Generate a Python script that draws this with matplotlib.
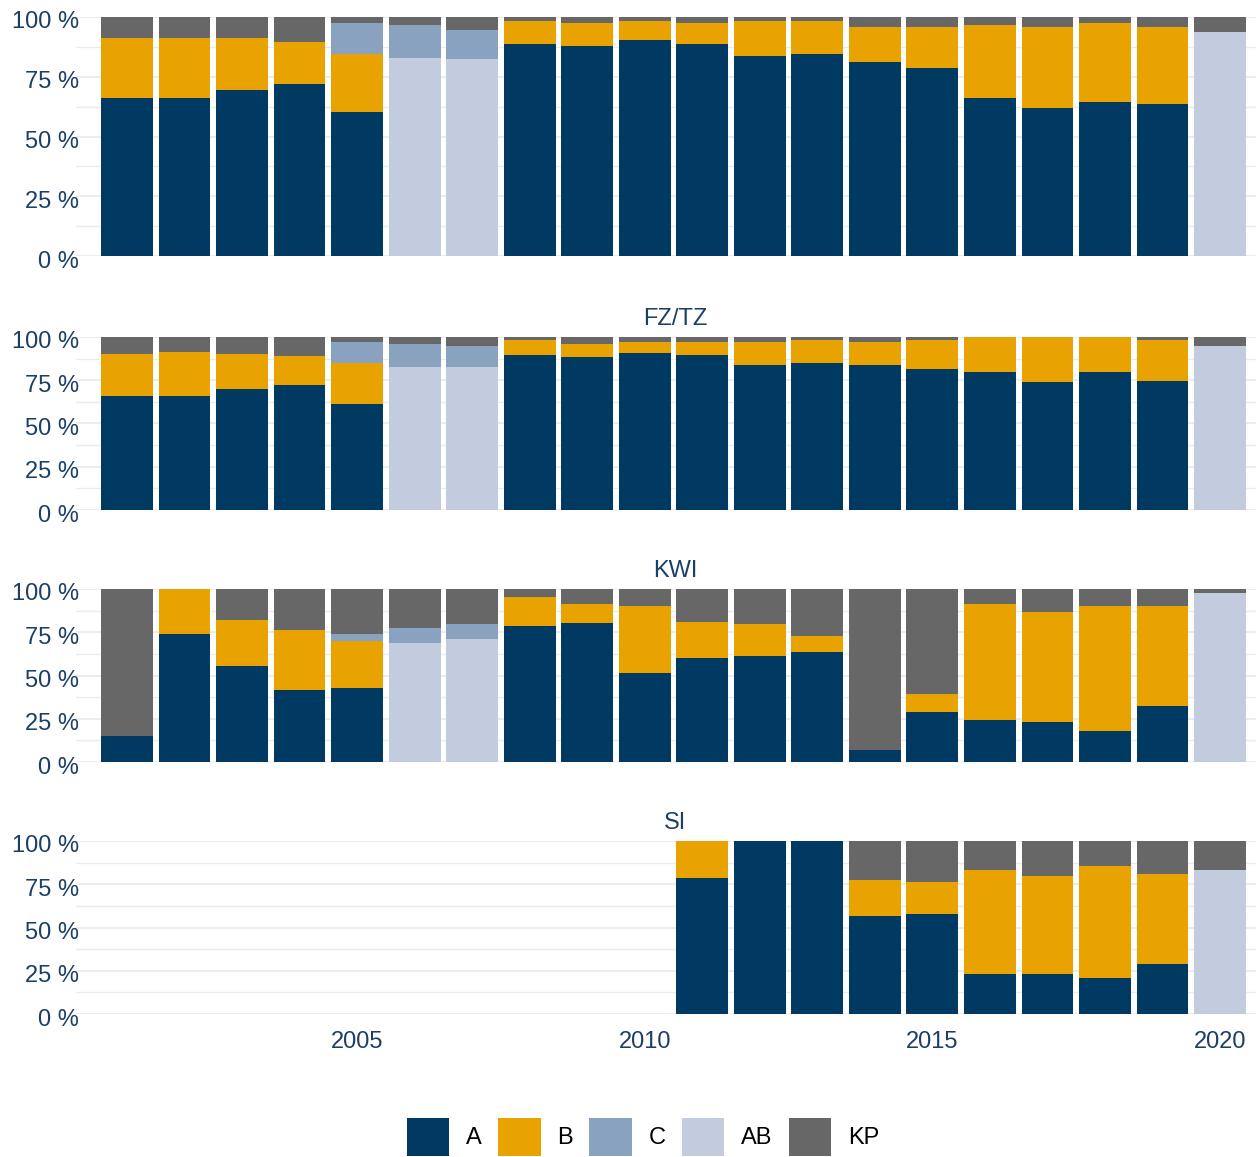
#stacked share bars per year, four facets
import numpy as np
import matplotlib.pyplot as plt
from matplotlib.patches import Patch
from matplotlib.transforms import ScaledTranslation

plt.rcParams['font.family'] = ['Liberation Sans', 'DejaVu Sans']

years = list(range(2001, 2021))
categories = ['A', 'B', 'C', 'AB', 'KP']
colors = ['#003A63', '#E8A300', '#89A2BF', '#C2CCDE', '#676767']
# order of stacking from bottom to top (AB sits at the bottom when present)
stack_order = [0, 3, 1, 2, 4]
panel_titles = ['', 'FZ/TZ', 'KWI', 'SI']

# shares in % per year (2001..2020)
top_A = [66.0, 66.0, 69.4, 71.9, 60.2, 0, 0, 88.6, 87.8, 90.3, 88.7, 83.7, 84.5, 81.2, 78.7, 66.2, 62.0, 64.5, 63.7, 0]
top_B = [25.1, 25.1, 21.7, 17.5, 24.3, 0, 0, 9.6, 9.6, 7.9, 8.7, 14.5, 13.7, 14.5, 17.0, 30.3, 33.7, 32.9, 32.0, 0]
top_C = [0, 0, 0, 0, 12.9, 13.8, 12.1, 0, 0, 0, 0, 0, 0, 0, 0, 0, 0, 0, 0, 0]
top_AB = [0, 0, 0, 0, 0, 82.7, 82.3, 0, 0, 0, 0, 0, 0, 0, 0, 0, 0, 0, 0, 93.6]
top_KP = [8.9, 8.9, 8.9, 10.6, 2.6, 3.5, 5.6, 1.8, 2.6, 1.8, 2.6, 1.8, 1.8, 4.3, 4.3, 3.5, 4.3, 2.6, 4.3, 6.4]

fz_A = [65.8, 65.8, 69.8, 72.1, 61.2, 0, 0, 89.4, 88.3, 90.8, 89.6, 83.9, 85.0, 83.9, 81.5, 79.8, 74.0, 79.8, 74.6, 0]
fz_B = [24.4, 25.5, 20.4, 16.9, 23.8, 0, 0, 8.9, 7.7, 6.3, 7.5, 13.2, 13.3, 13.2, 16.8, 20.2, 26.0, 20.2, 23.7, 0]
fz_C = [0, 0, 0, 0, 12.1, 13.3, 12.1, 0, 0, 0, 0, 0, 0, 0, 0, 0, 0, 0, 0, 0]
fz_AB = [0, 0, 0, 0, 0, 82.7, 82.7, 0, 0, 0, 0, 0, 0, 0, 0, 0, 0, 0, 0, 94.8]
fz_KP = [9.8, 8.7, 9.8, 11.0, 2.9, 4.0, 5.2, 1.7, 4.0, 2.9, 2.9, 2.9, 1.7, 2.9, 1.7, 0, 0, 0, 1.7, 5.2]

kwi_A = [15.1, 74.1, 55.4, 41.5, 42.7, 0, 0, 78.6, 80.5, 51.4, 60.2, 61.4, 63.7, 6.8, 28.8, 24.1, 23.0, 17.8, 32.6, 0]
kwi_B = [0, 25.9, 26.7, 34.8, 27.2, 0, 0, 16.8, 11.0, 38.8, 20.7, 18.3, 9.1, 0, 10.7, 67.4, 63.7, 72.4, 57.6, 0]
kwi_C = [0, 0, 0, 0, 4.1, 8.7, 8.6, 0, 0, 0, 0, 0, 0, 0, 0, 0, 0, 0, 0, 0]
kwi_AB = [0, 0, 0, 0, 0, 68.7, 71.1, 0, 0, 0, 0, 0, 0, 0, 0, 0, 0, 0, 0, 97.7]
kwi_KP = [84.9, 0, 17.9, 23.7, 26.0, 22.6, 20.3, 4.6, 8.5, 9.8, 19.1, 20.3, 27.2, 93.2, 60.5, 8.5, 13.3, 9.8, 9.8, 2.3]

si_A = [0, 0, 0, 0, 0, 0, 0, 0, 0, 0, 78.6, 100, 100, 56.6, 57.8, 23.0, 23.0, 20.7, 28.8, 0]
si_B = [0, 0, 0, 0, 0, 0, 0, 0, 0, 0, 21.4, 0, 0, 20.8, 18.4, 60.2, 56.7, 64.8, 52.1, 0]
si_C = [0] * 20
si_AB = [0, 0, 0, 0, 0, 0, 0, 0, 0, 0, 0, 0, 0, 0, 0, 0, 0, 0, 0, 83.2]
si_KP = [0, 0, 0, 0, 0, 0, 0, 0, 0, 0, 0, 0, 0, 22.6, 23.8, 16.8, 20.3, 14.5, 19.1, 16.8]

panels = [
    [top_A, top_B, top_C, top_AB, top_KP],
    [fz_A, fz_B, fz_C, fz_AB, fz_KP],
    [kwi_A, kwi_B, kwi_C, kwi_AB, kwi_KP],
    [si_A, si_B, si_C, si_AB, si_KP],
]

W, H = 1256, 1157
fig = plt.figure(figsize=(W / 100, H / 100), dpi=100)

# panel pixel extents (top, bottom)
extents = [(17, 256), (337, 510), (589, 762), (841, 1014)]
left_px, right_px = 76, 1256
navy = '#1B3F66'
shift_down = ScaledTranslation(0, -0.03, fig.dpi_scale_trans)

for p, (series, (t, b)) in enumerate(zip(panels, extents)):
    ax = fig.add_axes([left_px / W, 1 - b / H, (right_px - left_px) / W, (b - t) / H])
    bottom = np.zeros(len(years))
    for k in stack_order:
        vals = np.array(series[k], dtype=float)
        ax.bar(years, vals, bottom=bottom, width=0.9, color=colors[k], linewidth=0, zorder=2)
        bottom += vals
    ax.set_xlim(2000.113, 2020.626)
    ax.set_ylim(0, 100)
    ax.set_yticks([0, 25, 50, 75, 100])
    ax.set_yticklabels(['0 %', '25 %', '50 %', '75 %', '100 %'])
    ax.set_yticks([12.5, 37.5, 62.5, 87.5], minor=True)
    ax.grid(axis='y', which='major', color='#EBEBEB', linewidth=1.3, zorder=0)
    ax.grid(axis='y', which='minor', color='#EBEBEB', linewidth=1.0, zorder=0)
    ax.tick_params(axis='y', which='both', length=0, labelsize=17, labelcolor=navy, pad=-2)
    for lbl in ax.get_yticklabels():
        lbl.set_transform(lbl.get_transform() + shift_down)
    for s in ax.spines.values():
        s.set_visible(False)
    if p == 3:
        ax.set_xticks([2005, 2010, 2015, 2020])
        ax.tick_params(axis='x', length=0, labelsize=17, labelcolor=navy, pad=12)
    else:
        ax.set_xticks([])
    if panel_titles[p]:
        ax.text((675 - left_px) / (right_px - left_px), 1.0 + 18 / (b - t), panel_titles[p],
                transform=ax.transAxes, ha='center', va='center', fontsize=17, color=navy)

handles = [Patch(facecolor=c, edgecolor='none') for c in colors]
fig.legend(handles, categories, loc='center', bbox_to_anchor=(643 / W, 1 - 1137 / H), ncol=5,
           frameon=False, fontsize=17, handlelength=1.8, handleheight=2.1,
           handletextpad=0.7, columnspacing=0.7)

fig.savefig('out.png', dpi=100)
